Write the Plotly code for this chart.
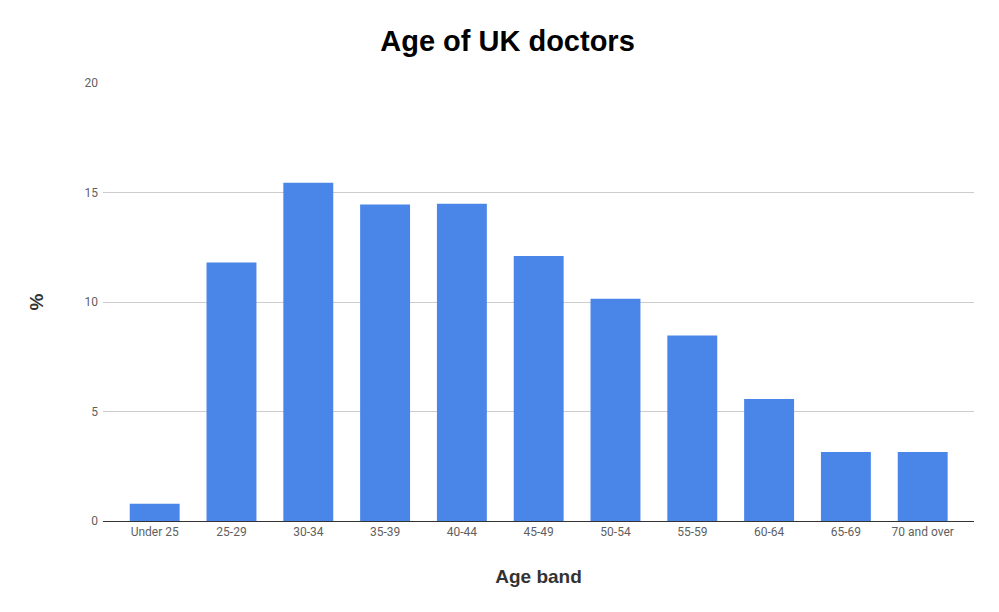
import plotly.graph_objects as go

categories = ["Under 25", "25-29", "30-34", "35-39", "40-44", "45-49",
              "50-54", "55-59", "60-64", "65-69", "70 and over"]
percent = [0.79, 11.80, 15.44, 14.45, 14.49, 12.10, 10.15, 8.47, 5.57, 3.15, 3.15]
y_ticks = [0, 5, 10, 15, 20]

fig = go.Figure(go.Bar(
    x=list(range(len(categories))), y=percent,
    marker=dict(color="#4a86e8", line=dict(width=0)),
    hoverinfo="x+y",
))

fig.update_layout(
    width=999, height=612,
    margin=dict(l=95, r=33, t=75, b=99),
    paper_bgcolor="white", plot_bgcolor="white",
    bargap=0.35,
    showlegend=False,
    title=dict(text="<b>Age of UK doctors</b>", x=0.5, xanchor="center",
               y=1 - 33 / 612, yanchor="middle",
               font=dict(family="Liberation Sans, Arial", size=29, color="#000000")),
    xaxis=dict(
        tickmode="array", tickvals=list(range(len(categories))), ticktext=categories,
        range=[-0.673, 10.668],
        showgrid=False, zeroline=False,
        showline=True, linecolor="#333333", linewidth=1,
        ticks="", ticklen=0,
        tickfont=dict(family="Roboto, Arial", size=12, color="#5f5f5f"),
        title=dict(text="<b>Age band</b>", standoff=31,
                   font=dict(family="Liberation Sans, Arial", size=19, color="#333333")),
    ),
    yaxis=dict(
        range=[0, 20], tickmode="array", tickvals=y_ticks,
        showgrid=True, gridcolor="#cccccc", gridwidth=1,
        zeroline=False, showline=False, ticks="",
        ticklabelstandoff=4,
        tickfont=dict(family="Roboto, Arial", size=12, color="#5f5f5f"),
        title=dict(text="<b>%</b>", standoff=35,
                   font=dict(family="Liberation Sans, Arial", size=19, color="#333333")),
    ),
)

fig.write_html("out.html")
